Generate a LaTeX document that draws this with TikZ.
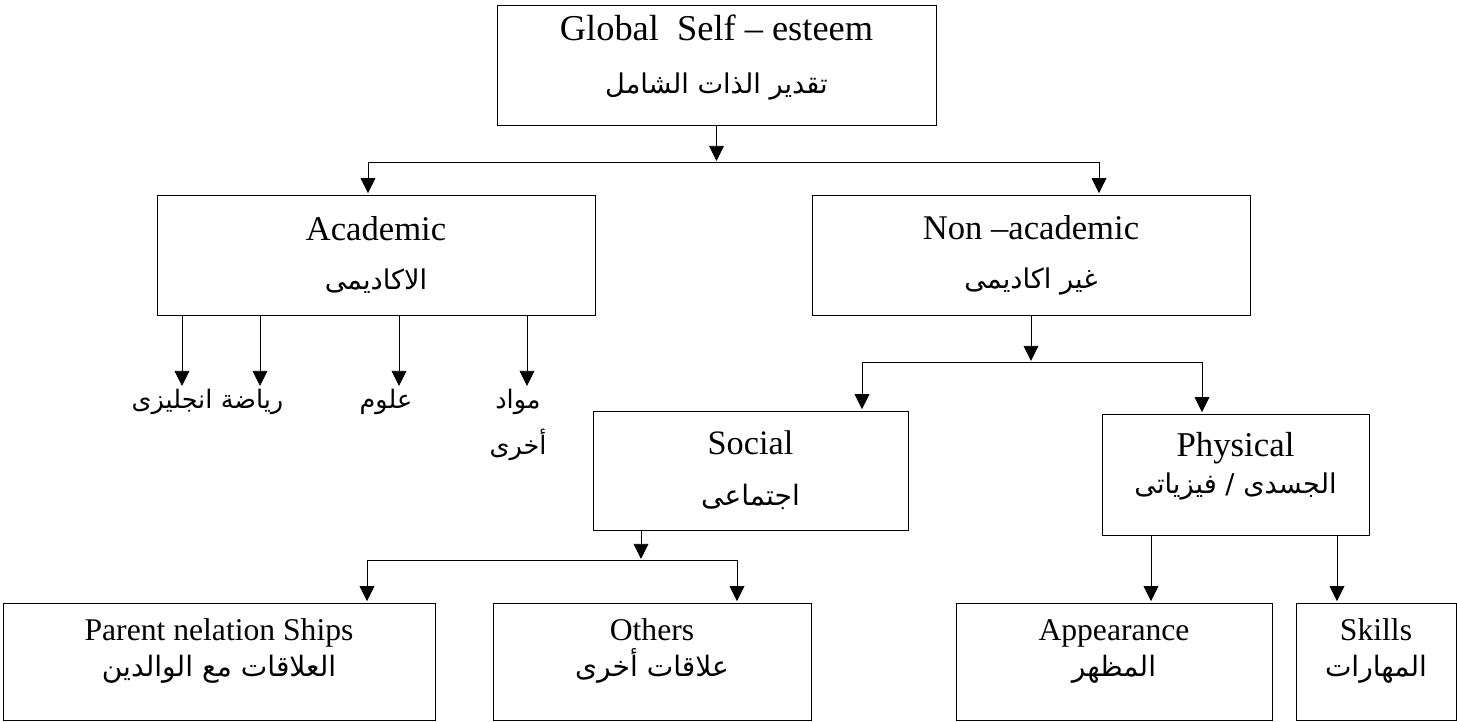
\documentclass[tikz,border=0pt]{standalone}
\usepackage{fontspec}
\setmainfont{Liberation Serif}
\newfontfamily\arabicfont[Script=Arabic]{DejaVu Sans}
\TeXXeTstate=1
\usetikzlibrary{
  arrows.meta,
  positioning
}
\def\arsz{15}
\newcommand{\artxt}[1]{{\arabicfont\fontsize{\arsz}{\arsz}\selectfont\beginR #1\endR}}

\begin{document}
\begin{tikzpicture}[x=0.02cm, y=-0.02cm]

\tikzset{
  box/.style={
    draw,
    rectangle,
    align=center,
    inner sep=0pt,
    font=\fontsize{19.7}{28}\selectfont\def\arsz{15.5}
  },
  lowbox/.style={
    box,
    minimum height=2.34cm,
    text depth=0.55cm,
    font=\fontsize{18}{20.5}\selectfont\def\arsz{16}
  },
  subj/.style={
    anchor=north,
    inner sep=1pt,
    align=center,
    font=\fontsize{18}{26}\selectfont\def\arsz{14.5}
  },
  >={Triangle[length=0.33cm, width=0.32cm]},
  line width=0.9pt
}

\useasboundingbox (0,0) rectangle (1457,722);

% Top node
\node[box, minimum width=8.78cm, minimum height=2.4cm, text depth=0.42cm,
      font=\fontsize{20.7}{30}\selectfont\def\arsz{15.5}] (glob) at (716.5,65)
      {Global\ \ Self -- esteem\\\artxt{تقدير الذات الشامل}};

% Second level
\node[box, minimum width=8.76cm, minimum height=2.4cm] (acad)    at (376,255)  {Academic\\\artxt{الاكاديمى}};
\node[box, minimum width=8.76cm, minimum height=2.4cm] (nonacad) at (1031,255) {Non --academic\\\artxt{غير اكاديمى}};

% Subjects
\node[subj] (eng)   at (172,387) {\artxt{انجليزى}};
\node[subj] (math)  at (252,387) {\artxt{رياضة}};
\node[subj] (sci)   at (386,387) {\artxt{علوم}};
\node[subj] (other) at (518,387) {\artxt{مواد}\\\artxt{أخرى}};

% Third level
\node[box, minimum width=6.3cm,  minimum height=2.38cm, font=\fontsize{19.5}{29}\selectfont\def\arsz{16}] (social) at (750.5,470.5)  {Social\\\artxt{اجتماعى}};
\node[box, minimum width=5.34cm, minimum height=2.42cm, text depth=0.45cm, font=\fontsize{19.8}{21}\selectfont\def\arsz{15.5}] (phys) at (1235.5,474.5) {Physical\\\artxt{الجسدى / فيزياتى}};

% Bottom level
\node[lowbox, minimum width=8.64cm] (parent) at (219,661.5)  {Parent nelation Ships\\\artxt{العلاقات مع الوالدين}};
\node[lowbox, minimum width=6.36cm] (others) at (652,661.5)  {Others\\\artxt{علاقات أخرى}};
\node[lowbox, minimum width=6.32cm] (appear) at (1114,661.5) {Appearance\\\artxt{المظهر}};
\node[lowbox, minimum width=3.2cm]  (skills) at (1376,661.5) {Skills\\\artxt{المهارات}};

% Junctions
\coordinate (acadIn) at (368,162);
\coordinate (nonIn)  at (1099,162);
\coordinate (socIn)  at (862,362);
\coordinate (phyIn)  at (1202,362);
\coordinate (sOut)   at (641,560);
\coordinate (parIn)  at (367,560);
\coordinate (othIn)  at (737,560);
\coordinate (appIn)  at (1151,0);
\coordinate (sklIn)  at (1337,0);

% Arrows global
\draw[->] (glob.south) -- (glob.south |- acadIn);
\draw (acadIn) -- (nonIn);
\draw[->] (acadIn) -- (acadIn |- acad.north);
\draw[->] (nonIn) -- (nonIn |- nonacad.north);

% Arrows academic
\draw[->] ([xshift=0.2cm]eng.north |- acad.south)    -- ([xshift=0.2cm]eng.north);
\draw[->] ([xshift=0.16cm]math.north |- acad.south)  -- ([xshift=0.16cm]math.north);
\draw[->] ([xshift=0.26cm]sci.north |- acad.south)   -- ([xshift=0.26cm]sci.north);
\draw[->] ([xshift=0.18cm]other.north |- acad.south) -- ([xshift=0.18cm]other.north);

% Arrows non-academic
\draw[->] (nonacad.south) -- (nonacad.south |- socIn);
\draw (socIn) -- (phyIn);
\draw[->] (socIn) -- (socIn |- social.north);
\draw[->] (phyIn) -- (phyIn |- phys.north);

% Arrows social
\draw[->] (sOut |- social.south) -- (sOut);
\draw (parIn) -- (othIn);
\draw[->] (parIn) -- (parIn |- parent.north);
\draw[->] (othIn) -- (othIn |- others.north);

% Arrows physical
\draw[->] (appIn |- phys.south) -- (appIn |- appear.north);
\draw[->] (sklIn |- phys.south) -- (sklIn |- skills.north);

\end{tikzpicture}
\end{document}
